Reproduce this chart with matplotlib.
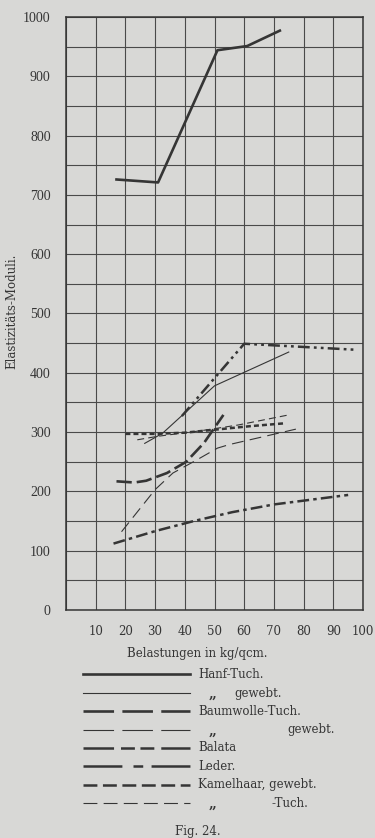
import matplotlib
matplotlib.use('Agg')
import matplotlib.pyplot as plt

plt.rcParams['lines.scale_dashes'] = False
plt.rcParams['font.family'] = ['DejaVu Serif']

# Kurven (Belastung in kg/qcm, Elastizitaets-Modul)
hanf_tuch_x = [17, 31, 51, 61, 72]
hanf_tuch_y = [726, 721, 944, 951, 977]
hanf_gew_x = [26.5, 32.5, 50, 75]
hanf_gew_y = [281, 298, 378, 435]
baum_tuch_x = [17, 23, 27, 34, 40.5, 46.5, 53]
baum_tuch_y = [217, 215, 218, 231, 250, 282, 329]
baum_gew_x = [18.7, 30, 36, 44, 51, 55, 77.4]
baum_gew_y = [132, 203, 231, 253, 273, 279, 305]
balata_x = [39, 60, 97]
balata_y = [327, 449, 439]
leder_x = [16, 30, 43, 56, 70, 95]
leder_y = [112, 133, 150, 165, 178, 194]
kamel_gew_x = [20, 30, 40, 50, 62, 74]
kamel_gew_y = [297, 297, 299, 304, 310, 315]
kamel_tuch_x = [24, 31, 45, 58, 75]
kamel_tuch_y = [287, 293, 302, 312, 329]

labels = ['Hanf-Tuch.', 'gewebt.', 'Baumwolle-Tuch.', 'gewebt.',
          'Balata', 'Leder.', 'Kamelhaar, gewebt.', '-Tuch.']
x_ticks = [10, 20, 30, 40, 50, 60, 70, 80, 90, 100]
y_ticks = [0, 100, 200, 300, 400, 500, 600, 700, 800, 900, 1000]

INK = '#353535'
PAPER = '#d8d8d6'

# (linewidth, dashes im Diagramm, dashes in der Legende)
styles = [
    (1.9, '-', '-'),
    (0.8, '-', '-'),
    (1.9, (0, (11, 3.6)), (0, (22, 6))),
    (0.8, (0, (8.5, 4.5)), (0, (22, 6))),
    (1.8, (0, (8.5, 3, 2, 3, 2, 3)), (0, (22, 5, 10, 4, 10, 5))),
    (1.8, (0, (8.5, 3, 2.5, 3)), (0, (28, 8, 7, 6))),
    (1.8, (0, (3.6, 2.2)), (0, (10, 4))),
    (0.8, (0, (5, 3)), (0, (10, 4.5))),
]
series = [
    (hanf_tuch_x, hanf_tuch_y), (hanf_gew_x, hanf_gew_y),
    (baum_tuch_x, baum_tuch_y), (baum_gew_x, baum_gew_y),
    (balata_x, balata_y), (leder_x, leder_y),
    (kamel_gew_x, kamel_gew_y), (kamel_tuch_x, kamel_tuch_y),
]

W, H = 375, 838
fig = plt.figure(figsize=(W / 100, H / 100), dpi=100)
fig.patch.set_facecolor(PAPER)

ax = fig.add_axes([66 / W, 1 - 610 / H, 297 / W, 593 / H])
ax.set_facecolor(PAPER)
ax.set_xlim(0, 100)
ax.set_ylim(0, 1000)
ax.set_xticks([0] + x_ticks)
ax.set_xticklabels([''] + [str(t) for t in x_ticks], fontsize=8.5, color=INK)
ax.set_yticks(y_ticks)
ax.set_yticklabels([str(t) for t in y_ticks], fontsize=10, color=INK,
                   family='Liberation Serif')
ax.set_yticks(range(50, 1000, 100), minor=True)
ax.tick_params(which='both', length=0)
ax.tick_params(axis='x', pad=11)
ax.tick_params(axis='y', pad=11)
ax.grid(True, which='both', color='#4a4a4a', lw=0.8)
ax.set_axisbelow(True)
for sp in ax.spines.values():
    sp.set_color(INK)
    sp.set_linewidth(1.1)

for (xs, ys), (lw, ls, _) in zip(series, styles):
    ax.plot(xs, ys, color=INK, lw=lw, linestyle=ls, zorder=3)

# Beschriftungen und Legende in Pixelkoordinaten
ov = fig.add_axes([0, 0, 1, 1])
ov.set_xlim(0, W)
ov.set_ylim(H, 0)
ov.axis('off')
ov.patch.set_alpha(0)

ov.text(197, 653, 'Belastungen in kg/qcm.', ha='center', va='center',
        fontsize=8.5, color=INK)
ov.text(12, 311, 'Elastizitäts-Moduli.', ha='center', va='center',
        rotation=90, fontsize=8.5, color=INK)
ov.text(198, 831, 'Fig. 24.', ha='center', va='center', fontsize=8.5,
        color=INK)

rows = [674, 693, 711, 729.5, 747.5, 766, 784.5, 803]
for i, (row, lab, (lw, _, lls)) in enumerate(zip(rows, labels, styles)):
    ov.plot([83, 190], [row, row], color=INK, lw=lw, linestyle=lls)
    if i in (1, 3, 7):
        ov.text(213, row + 1, '„', ha='center', va='center', fontsize=10,
                fontweight='bold', color=INK)
        tx = {1: 234, 3: 287, 7: 272}[i]
    else:
        tx = 198
    ov.text(tx, row, lab, ha='left', va='center', fontsize=8.5, color=INK)

fig.savefig('out.png', dpi=100, facecolor=PAPER)
